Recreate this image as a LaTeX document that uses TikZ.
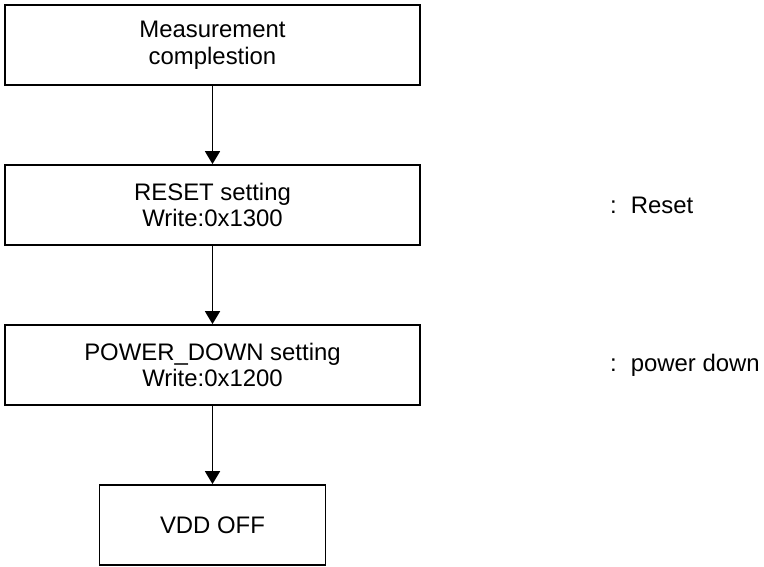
\documentclass[tikz,border=0pt]{standalone}
\usepackage{fontspec}
\setmainfont{Liberation Sans}
\usetikzlibrary{arrows.meta}
\usetikzlibrary{positioning}
\tikzset{stepbox/.style = {draw, line width = 1.8bp, align = center,
                           minimum width = 415bp, minimum height = 80bp,
                           inner sep = 0, font = \fontsize{24}{27}\selectfont}}
\tikzset{flow/.style = {line width = 1.8bp,
                        -{Triangle[width = 15bp, length = 13bp]}}}
\tikzset{note/.style = {anchor = west, inner sep = 0,
                        font = \fontsize{24}{27}\selectfont}}

\begin{document}
\begin{tikzpicture}[x=1bp, y=-1bp]
      \useasboundingbox (0, 0) rectangle (764, 567);
      \node [stepbox] (done)  at (212.5, 45)  {Measurement\\complestion};
      \node [stepbox] (reset) at (212.5, 205) {RESET setting\\Write:0x1300};
      \node [stepbox] (pdown) at (212.5, 365) {POWER\_DOWN setting\\Write:0x1200};
      \node [stepbox, minimum width = 226bp] (vdd) at (212.5, 525) {VDD OFF};
      \draw [flow] (done) -- (reset);
      \draw [flow] (reset) -- (pdown);
      \draw [flow] (pdown) -- (vdd);
      \node [note] (resetnote) at (610, 205) {:\hspace{14bp}Reset};
      \node [note] (pdownnote) at (610, 365) {:\hspace{14bp}power down};
    \end{tikzpicture}
\end{document}
